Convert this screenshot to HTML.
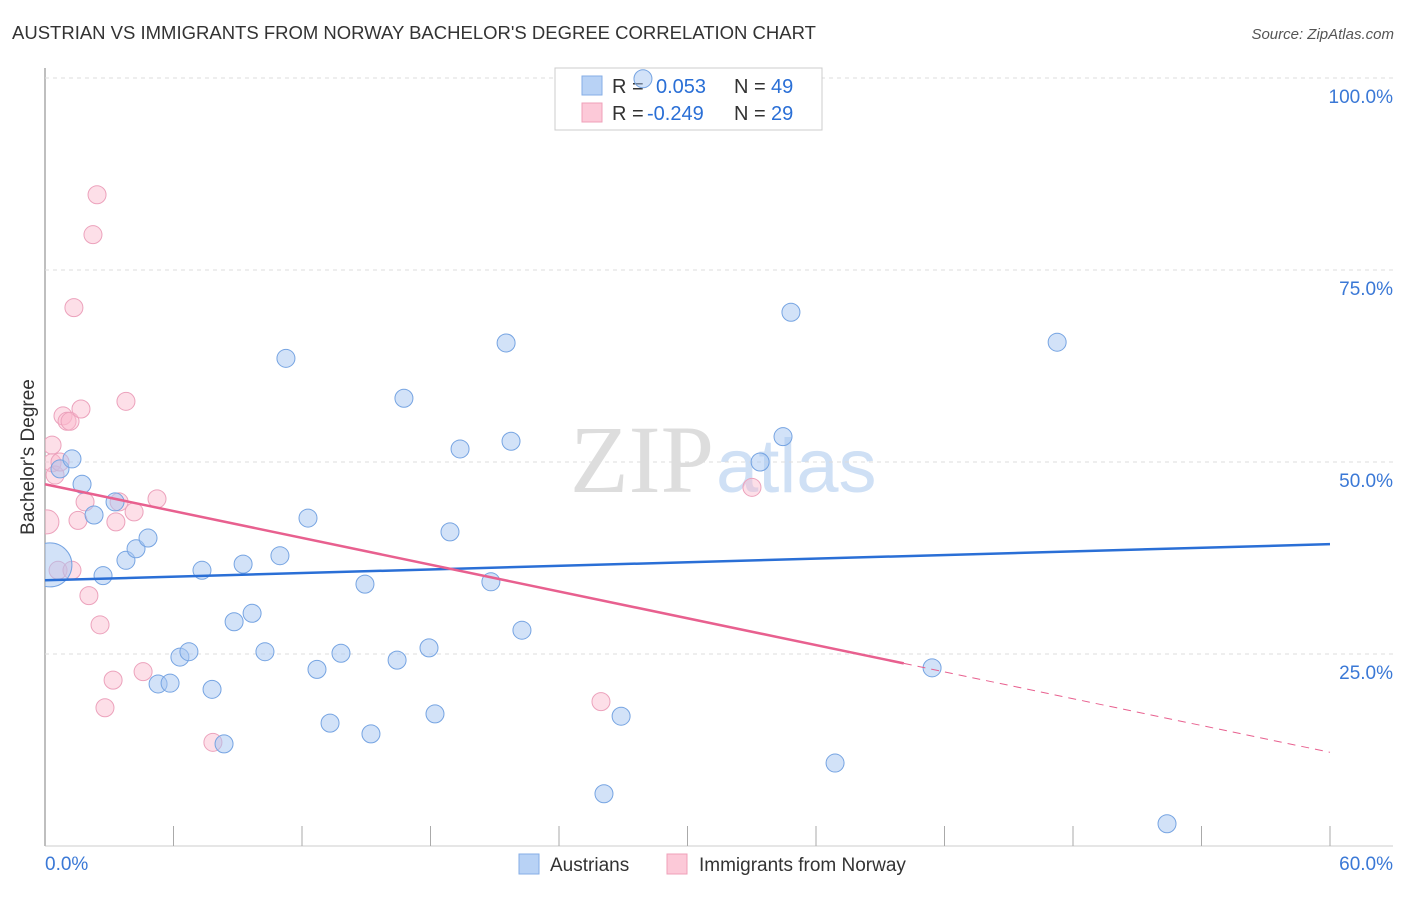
<!DOCTYPE html>
<html><head><meta charset="utf-8"><style>
body{margin:0;background:#fff;font-family:"Liberation Sans",sans-serif;}
</style></head><body>
<svg id="c" width="1406" height="892" xmlns="http://www.w3.org/2000/svg">
<defs><clipPath id="plot"><rect x="45" y="40" width="1360" height="806"/></clipPath></defs>
<text x="12" y="39" font-size="18.5" fill="#333">AUSTRIAN VS IMMIGRANTS FROM NORWAY BACHELOR'S DEGREE CORRELATION CHART</text>
<text x="1394" y="39" font-size="15" fill="#555" font-style="italic" text-anchor="end">Source: ZipAtlas.com</text>
<text x="714" y="492" font-size="96" fill="#ddd" text-anchor="end" font-family="Liberation Serif,serif">ZIP</text>
<text x="716" y="492" font-size="76" fill="#cfe0f5">atlas</text>
<g id="grid"></g>
<g>
<rect x="555" y="68" width="267" height="62" fill="#fff" stroke="#ccc"/>
<rect x="582" y="76" width="20" height="19" fill="#b8d2f5" stroke="#86aee6"/>
<rect x="582" y="103" width="20" height="19" fill="#fcc9d8" stroke="#efa0b9"/>
<text x="612" y="93" font-size="20" fill="#333">R = </text><text x="656" y="93" font-size="20" fill="#2a6fd6">0.053</text>
<text x="734" y="93" font-size="20" fill="#333">N = </text><text x="771" y="93" font-size="20" fill="#2a6fd6">49</text>
<text x="612" y="120" font-size="20" fill="#333">R = </text><text x="647" y="120" font-size="20" fill="#2a6fd6">-0.249</text>
<text x="734" y="120" font-size="20" fill="#333">N = </text><text x="771" y="120" font-size="20" fill="#2a6fd6">29</text>
</g>
<g id="pts" clip-path="url(#plot)"></g><g id="lines"></g>
<text transform="translate(34,457) rotate(-90)" font-size="19" fill="#333" text-anchor="middle">Bachelor's Degree</text>
<g>
<rect x="519" y="854" width="20" height="20" fill="#b8d2f5" stroke="#86aee6"/>
<text x="550" y="871" font-size="19" fill="#333">Austrians</text>
<rect x="667" y="854" width="20" height="20" fill="#fcc9d8" stroke="#efa0b9"/>
<text x="699" y="871" font-size="19" fill="#333">Immigrants from Norway</text>
</g>
</svg>
<script>
const blueX=[0.23,0.70,1.26,1.73,2.29,2.71,3.27,3.78,4.25,4.81,5.28,5.84,6.30,6.72,7.33,7.80,8.36,8.83,9.25,9.67,10.27,10.97,11.25,12.28,12.70,13.31,13.82,14.94,15.22,16.44,16.76,17.93,18.21,18.91,19.38,20.82,21.53,21.76,22.27,26.10,26.90,27.92,33.39,34.46,34.83,36.89,41.42,47.26,52.39];
const blueY=[36.6,49.1,50.4,47.1,43.1,35.2,44.8,37.2,38.7,40.1,21.1,21.2,24.6,25.3,35.9,20.4,13.3,29.2,36.7,30.3,25.3,37.8,63.5,42.7,23.0,16.0,25.1,34.1,14.6,24.2,58.3,25.8,17.2,40.9,51.7,34.4,65.5,52.7,28.1,6.8,16.9,99.9,50.0,53.3,69.5,10.8,23.2,65.6,2.9];
const pinkX=[0.09,0.33,0.33,0.47,0.61,0.84,1.03,1.17,1.26,1.35,1.54,1.68,1.87,2.05,2.24,2.43,2.57,2.80,3.18,3.31,3.46,3.78,4.16,4.58,5.23,7.84,25.96,33.01,0.70];
const pinkY=[42.2,52.2,49.9,48.3,35.9,56.0,55.3,55.3,35.9,70.1,42.4,56.9,44.8,32.6,79.6,84.8,28.8,18.0,21.6,42.2,44.8,57.9,43.5,22.7,45.2,13.5,18.8,46.7,50.0];
const blueTrend=[34.6,39.3];
const pinkTrend=[47.1,12.2];
const pinkSolidEnd=40.1;
const yTicks=[100,75,50,25];
const NS="http://www.w3.org/2000/svg";
const sx=v=>45+v/60*1285, sy=v=>846-v/100*768;
function mk(tag,attrs,parent){const e=document.createElementNS(NS,tag);for(const k in attrs)e.setAttribute(k,attrs[k]);parent.appendChild(e);return e;}
const grid=document.getElementById('grid'),pts=document.getElementById('pts'),lines=document.getElementById('lines');
let ax=mk('line',{x1:45,y1:68,x2:45,y2:846,stroke:'#aaa','stroke-width':1.5},grid);


let xa=mk('line',{x1:45,y1:846,x2:1393,y2:846,stroke:'#ccc'},grid);


yTicks.forEach(t=>{
 const g=mk('line',{x1:45,y1:sy(t),x2:1393,y2:sy(t),stroke:'#ddd','stroke-dasharray':'4,4'},grid);
 
 
 const tx=mk('text',{x:1393,y:sy(t)+25,'font-size':19,fill:'#3a78d6','text-anchor':'end'},grid);tx.textContent=t.toFixed(1)+'%';
 
 
});
for(let i=0;i<=10;i++){const t=mk('line',{x1:sx(i*6),y1:826,x2:sx(i*6),y2:846,stroke:'#aaa'},grid);
 
 }
[['0.0%',45,'start'],['60.0%',1393,'end']].forEach(a=>{const t=mk('text',{x:a[1],y:870,'font-size':19,fill:'#3a78d6','text-anchor':a[2]},grid);t.textContent=a[0];
 
 });
pinkX.forEach((x,i)=>{const c=mk('circle',{cx:sx(x),cy:sy(pinkY[i]),r:i==0?12:9,fill:'rgba(250,185,205,0.45)',stroke:'#eca2bc'},pts);
 
 });
blueX.forEach((x,i)=>{const c=mk('circle',{cx:sx(x),cy:sy(blueY[i]),r:i==0?22:9,fill:'rgba(165,198,242,0.5)',stroke:'#76a4e2'},pts);
 
 });
const bl=mk('line',{x1:sx(0),y1:sy(blueTrend[0]),x2:sx(60),y2:sy(blueTrend[1]),stroke:'#2a6fd6','stroke-width':2.5},lines);


const py=x=>pinkTrend[0]+(pinkTrend[1]-pinkTrend[0])*x/60;
const pl=mk('line',{x1:sx(0),y1:sy(py(0)),x2:sx(pinkSolidEnd),y2:sy(py(pinkSolidEnd)),stroke:'#e8608f','stroke-width':2.5},lines);


const pd=mk('line',{x1:sx(pinkSolidEnd),y1:sy(py(pinkSolidEnd)),x2:sx(60),y2:sy(py(60)),stroke:'#e8608f','stroke-width':1,'stroke-dasharray':'8,6'},lines);


</script>
</body></html>
